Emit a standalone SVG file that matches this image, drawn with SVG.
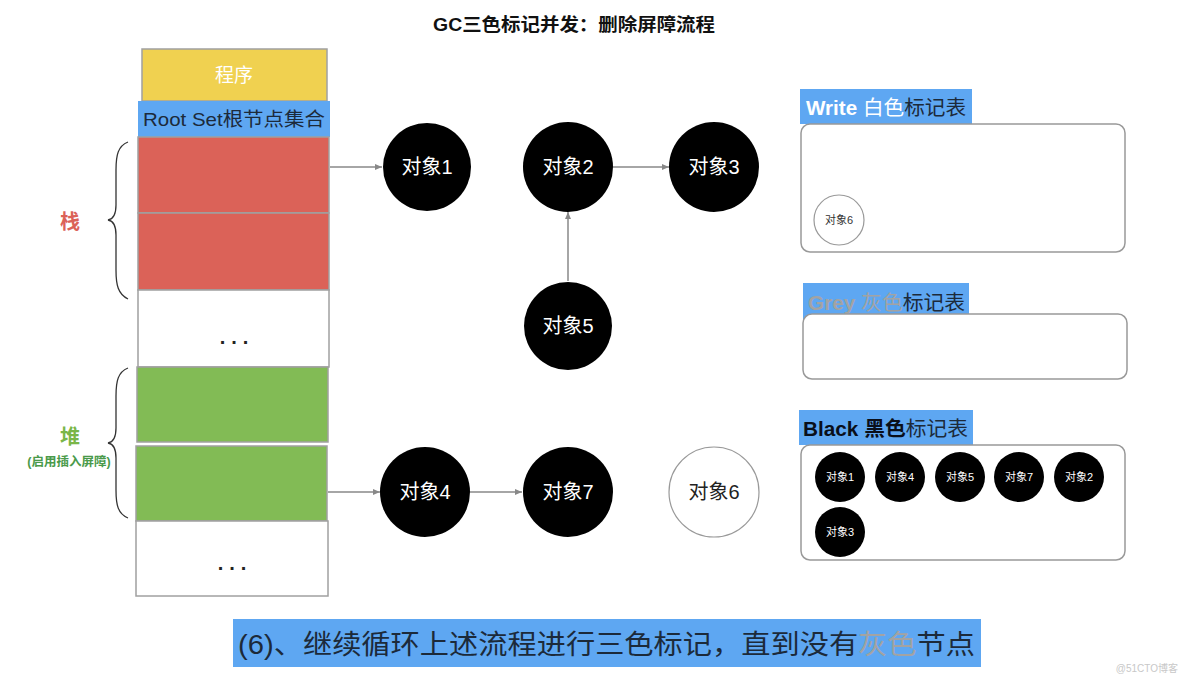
<svg xmlns="http://www.w3.org/2000/svg" width="1184" height="683" viewBox="0 0 1184 683">
<style>
  text { font-family: "Liberation Sans", "Noto Sans CJK SC", sans-serif; }
  .cell { stroke: #a0a0a0; stroke-width: 1.5; }
  .obj { fill: #000; }
  .objt { fill: #fff; font-size: 20px; text-anchor: middle; }
  .wt { fill: #fff; stroke: #999; stroke-width: 1.2; }
  .sm { fill: #fff; font-size: 11px; text-anchor: middle; }
  .smd { fill: #333; font-size: 11px; text-anchor: middle; }
  .panel { fill: #fff; stroke: #999; stroke-width: 1.5; }
  .lbl { fill: #5ea7f2; }
  .conn { stroke: #888; stroke-width: 1.5; fill: none; marker-end: url(#ah); }
  .brace { stroke: #333; stroke-width: 1.3; fill: none; }
  .dots { font-family: "Liberation Sans", sans-serif; font-size: 20px; font-weight: bold; fill: #222; text-anchor: middle; letter-spacing: 6px; }
</style>
<defs>
  <marker id="ah" markerWidth="8" markerHeight="8" refX="7" refY="4" orient="auto" markerUnits="userSpaceOnUse">
    <path d="M0,1 L7,4 L0,7 Z" fill="#888"/>
  </marker>
</defs>
<rect width="1184" height="683" fill="#fff"/>

<text x="574" y="31" font-size="18" font-weight="bold" text-anchor="middle" fill="#111" textLength="282" lengthAdjust="spacingAndGlyphs">GC三色标记并发：删除屏障流程</text>

<g id="program">
  <rect x="142" y="49" width="185" height="52" fill="#f0d150" class="cell"/>
  <text x="234" y="82" font-size="19" fill="#fff" text-anchor="middle">程序</text>
</g>
<g id="rootset">
  <rect x="138" y="101" width="192" height="36" fill="#5ea7f2"/>
  <text x="234" y="126" font-size="19" fill="#1c2a3a" text-anchor="middle" textLength="182" lengthAdjust="spacingAndGlyphs">Root Set根节点集合</text>
</g>
<g id="stack">
  <rect x="138" y="137" width="191" height="76" fill="#db6258" class="cell"/>
  <rect x="138" y="213" width="191" height="77" fill="#db6258" class="cell"/>
  <rect x="138" y="290" width="191" height="77" fill="#fff" class="cell"/>
  <text class="dots" x="237" y="344">...</text>
  <path class="brace" d="M128,142 C118,146 116,155 116,170 L116,205 C116,214 114,219 108,220 C114,221 116,226 116,235 L116,270 C116,285 118,294 128,299"/>
  <text x="70" y="229" font-size="20" font-weight="bold" fill="#db6258" text-anchor="middle">栈</text>
</g>
<g id="heap">
  <rect x="137" y="367" width="191" height="75" fill="#82bb55" class="cell"/>
  <rect x="136" y="446" width="191" height="75" fill="#82bb55" class="cell"/>
  <rect x="136" y="521" width="192" height="75" fill="#fff" class="cell"/>
  <text class="dots" x="235" y="570">...</text>
  <path class="brace" d="M128,368 C118,372 116,381 116,396 L116,428 C116,437 114,442 108,443 C114,444 116,449 116,458 L116,490 C116,505 118,514 128,518"/>
  <text x="70" y="444" font-size="20" font-weight="bold" fill="#7ab648" text-anchor="middle">堆</text>
  <text x="69" y="466" font-size="12.5" font-weight="bold" fill="#4a9a4a" text-anchor="middle">(启用插入屏障)</text>
</g>

<g id="connectors">
  <line class="conn" x1="330" y1="167" x2="382" y2="167"/>
  <line class="conn" x1="328" y1="492" x2="380" y2="492"/>
  <line class="conn" x1="613" y1="167" x2="669" y2="167"/>
  <line class="conn" x1="568" y1="281" x2="568" y2="212"/>
  <line class="conn" x1="470" y1="492" x2="522" y2="492"/>
</g>

<g id="obj1"><circle class="obj" cx="427" cy="167" r="44"/><text class="objt" x="427" y="174">对象1</text></g>
<g id="obj2"><circle class="obj" cx="568" cy="167" r="45"/><text class="objt" x="568" y="174">对象2</text></g>
<g id="obj3"><circle class="obj" cx="714" cy="167" r="45"/><text class="objt" x="714" y="174">对象3</text></g>
<g id="obj5"><circle class="obj" cx="568" cy="326" r="44"/><text class="objt" x="568" y="333">对象5</text></g>
<g id="obj4"><circle class="obj" cx="425" cy="492" r="45"/><text class="objt" x="425" y="499">对象4</text></g>
<g id="obj7"><circle class="obj" cx="568" cy="492" r="45"/><text class="objt" x="568" y="499">对象7</text></g>
<g id="obj6"><circle class="wt" cx="714" cy="492" r="45"/><text class="objt" x="714" y="499" style="fill:#222">对象6</text></g>

<g id="white-table">
  <rect class="lbl" x="800" y="89" width="172" height="35"/>
  <text x="806" y="115" font-size="20" textLength="160" lengthAdjust="spacingAndGlyphs"><tspan font-weight="bold" fill="#fff">Write </tspan><tspan fill="#fff">白色</tspan><tspan fill="#1c2a3a">标记表</tspan></text>
  <rect class="panel" x="801" y="124" width="324" height="128" rx="9"/>
  <circle class="wt" cx="839" cy="220" r="25"/>
  <text class="smd" x="839" y="224">对象6</text>
</g>

<g id="grey-table">
  <rect class="lbl" x="803" y="283" width="166" height="37"/>
  <text x="808" y="310" font-size="20" textLength="157" lengthAdjust="spacingAndGlyphs"><tspan font-weight="bold" fill="#a3a3a3">Grey </tspan><tspan fill="#a3a3a3">灰色</tspan><tspan fill="#1c2a3a">标记表</tspan></text>
  <rect class="panel" x="803" y="314" width="324" height="65" rx="9"/>
</g>

<g id="black-table">
  <rect class="lbl" x="799" y="410" width="174" height="35"/>
  <text x="803" y="436" font-size="20" fill="#0a0f1a" textLength="165" lengthAdjust="spacingAndGlyphs"><tspan font-weight="bold">Black 黑色</tspan><tspan fill="#1c2a3a">标记表</tspan></text>
  <rect class="panel" x="801" y="445" width="324" height="115" rx="9"/>
  <circle class="obj" cx="840" cy="477" r="25"/><text class="sm" x="840" y="481">对象1</text>
  <circle class="obj" cx="900" cy="477" r="25"/><text class="sm" x="900" y="481">对象4</text>
  <circle class="obj" cx="960" cy="477" r="25"/><text class="sm" x="960" y="481">对象5</text>
  <circle class="obj" cx="1019" cy="477" r="25"/><text class="sm" x="1019" y="481">对象7</text>
  <circle class="obj" cx="1079" cy="477" r="25"/><text class="sm" x="1079" y="481">对象2</text>
  <circle class="obj" cx="840" cy="532" r="25"/><text class="sm" x="840" y="536">对象3</text>
</g>

<g id="caption">
  <rect x="233" y="619" width="748" height="48" fill="#5ea7f2"/>
  <text x="238" y="654" font-size="27" fill="#1c2a3a" textLength="737" lengthAdjust="spacingAndGlyphs">(6)、继续循环上述流程进行三色标记，直到没有<tspan fill="#a3a3a3">灰色</tspan>节点</text>
</g>

<text x="1178" y="672" font-size="10" fill="#c8c8c8" text-anchor="end">@51CTO博客</text>
</svg>
